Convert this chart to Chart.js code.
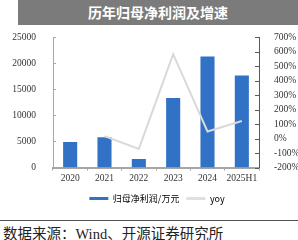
<!DOCTYPE html>
<html><head><meta charset="utf-8">
<script src="https://cdn.jsdelivr.net/npm/chart.js@4"></script>
<style>
html,body{margin:0;padding:0;background:#fff;width:298px;height:240px;overflow:hidden;}
#banner{position:absolute;left:18px;top:0;width:280px;height:25px;background:#7b7b7b;color:#fff;font:bold 14px "Noto Sans CJK SC",sans-serif;text-align:center;line-height:25px;}
#wrap{position:absolute;left:0;top:0;width:298px;height:215px;}
#rule{position:absolute;left:0;top:220px;width:298px;height:1px;background:#555;}
#src{position:absolute;left:3px;top:222px;font:14.5px "Liberation Serif","Noto Sans CJK SC",serif;color:#222;white-space:nowrap;}
</style></head>
<body>
<div id="banner">历年归母净利润及增速</div>
<div id="wrap"><canvas id="c" width="298" height="215"></canvas></div>
<div id="rule"></div>
<div id="src">数据来源：Wind、开源证券研究所</div>
<script>
const categories = ['2020','2021','2022','2023','2024','2025H1'];
const netProfit = [4920, 5830, 1670, 13330, 21290, 17630];
const yoy = [null, 17, -71, 582, 49, 121];
const leftTicks = [0, 5000, 10000, 15000, 20000, 25000];
const rightTicks = [-200, -100, 0, 100, 200, 300, 400, 500, 600, 700];

const tickFont = {family: 'Liberation Serif', size: 9.5};
const innerTicks = {
  id: 'innerTicks',
  afterLayout(chart) {
    if (chart.legend) { chart.legend.left += 16; }
  },
  afterDraw(chart) {
    const ctx = chart.ctx;
    ctx.save();
    const y = chart.scales.y, y1 = chart.scales.y1;
    ctx.lineWidth = 1;
    ctx.strokeStyle = '#a6a6a6';
    y.ticks.forEach((t, i) => {
      const py = Math.round(y.getPixelForTick(i)) + 0.5;
      ctx.beginPath(); ctx.moveTo(y.right, py); ctx.lineTo(y.right + 3, py); ctx.stroke();
    });
    ctx.strokeStyle = '#595959';
    y1.ticks.forEach((t, i) => {
      const py = Math.round(y1.getPixelForTick(i)) + 0.5;
      ctx.beginPath(); ctx.moveTo(y1.left - 4, py); ctx.lineTo(y1.left, py); ctx.stroke();
    });
    ctx.restore();
  }
};

new Chart(document.getElementById('c'), {
  data: {
    labels: categories,
    datasets: [
      {type: 'bar', label: '归母净利润/万元', data: netProfit, backgroundColor: '#3172c6', yAxisID: 'y', barPercentage: 0.82, categoryPercentage: 0.5, order: 1},
      {type: 'line', label: 'yoy', data: yoy, borderColor: '#d9d9d9', backgroundColor: '#d9d9d9', borderWidth: 2, pointRadius: 0, tension: 0, yAxisID: 'y1', order: 0}
    ]
  },
  options: {
    responsive: false,
    animation: false,
    devicePixelRatio: 1,
    layout: {padding: {top: 37, left: 0, right: 0, bottom: 2}},
    plugins: {
      tooltip: {enabled: false},
      legend: {
        position: 'bottom',
        labels: {
          font: {family: 'Noto Sans CJK SC', size: 9},
          color: '#333',
          boxWidth: 19, boxHeight: 3, padding: 7,
          generateLabels(chart) {
            return [
              {text: '归母净利润/万元', fillStyle: '#3172c6', strokeStyle: '#3172c6', lineWidth: 0, datasetIndex: 0, hidden: false},
              {text: 'yoy', fillStyle: '#e0e0e0', strokeStyle: '#e0e0e0', lineWidth: 0, datasetIndex: 1, hidden: false}
            ];
          }
        }
      }
    },
    scales: {
      x: {
        grid: {display: true, drawOnChartArea: false, drawTicks: true, tickLength: 3, color: '#a6a6a6', offset: true},
        border: {display: true, color: '#a6a6a6', width: 2},
        ticks: {font: tickFont, color: '#333', padding: 2.5, maxRotation: 0}
      },
      y: {
        position: 'left', min: 0, max: 25000,
        afterBuildTicks(s) { s.ticks = leftTicks.map(v => ({value: v})); },
        afterFit(s) { s.width = 53; },
        grid: {display: false},
        border: {display: true, color: '#a6a6a6', width: 1},
        ticks: {font: tickFont, color: '#333', padding: 9, autoSkip: false, callback: v => String(v)}
      },
      y1: {
        position: 'right', min: -200, max: 700,
        afterBuildTicks(s) { s.ticks = rightTicks.map(v => ({value: v})); },
        afterFit(s) { s.width = 39; },
        grid: {display: false},
        border: {display: true, color: '#595959', width: 1},
        ticks: {font: tickFont, color: '#333', padding: 7, autoSkip: false, callback: v => v + '%'}
      }
    }
  },
  plugins: [innerTicks]
});
</script>
</body></html>
